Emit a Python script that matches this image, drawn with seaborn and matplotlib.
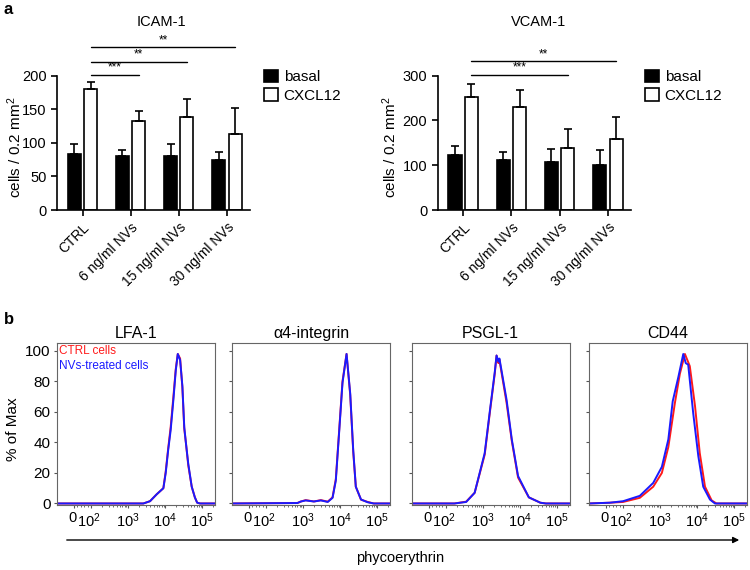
import numpy as np
import pandas as pd
import matplotlib
matplotlib.use("Agg")
import matplotlib.pyplot as plt
import matplotlib.ticker as mticker
import matplotlib.transforms as mtrans
from matplotlib.patches import Patch, FancyArrowPatch
import seaborn as sns

# ---- panel a: adhesion counts (mean, upper SEM) ----
conditions = ['CTRL', '6 ng/ml NVs', '15 ng/ml NVs', '30 ng/ml NVs']
icam_basal = [84, 80, 81, 74]
icam_basal_err = [15, 9, 17, 13]
icam_cxcl = [180, 133, 139, 113]
icam_cxcl_err = [11, 15, 27, 39]
vcam_basal = [123, 112, 107, 101]
vcam_basal_err = [21, 17, 29, 33]
vcam_cxcl = [252, 231, 138, 158]
vcam_cxcl_err = [30, 38, 43, 49]
# (target group, stars, height)
icam_sig = [(1, '***', 201), (2, '**', 221), (3, '**', 242)]
vcam_sig = [(2, '***', 302), (3, '**', 332)]

# ---- panel b: flow cytometry histograms (% of max) ----
lfa_x = [-100, 2570, 3890, 5870, 8900, 10300, 12000, 14000, 16600, 19200, 21800,
         25200, 29000, 32600, 36000, 41800, 51800, 63000, 72700, 87000, 220000]
lfa_ctrl = [0, 0, 1.5, 6, 10, 21, 36, 50, 70, 88, 98, 95, 76, 49, 40, 25, 11, 4, 0.5, 0, 0]
lfa_nv = [0, 0, 1.5, 6, 10, 20, 35, 48, 68, 87, 98, 94, 77, 50, 40, 26, 11, 4, 0.5, 0, 0]

a4_x = [-100, 700, 870, 1170, 1950, 3000, 4600, 6200, 7600, 9300, 11500, 14800,
        18600, 22400, 26300, 36300, 55000, 80000, 220000]
a4_ctrl = [0, 0.3, 1.3, 2.2, 1.3, 2.2, 1.2, 4, 16, 47, 80, 98, 71, 34, 11, 2.5, 1, 0, 0]
a4_nv = [0, 0.3, 1.3, 2.0, 1.3, 2.0, 1.0, 3.7, 15, 46, 79, 98, 72, 35, 11, 2.6, 0.8, 0, 0]

psgl_x = [-100, 172, 355, 600, 1120, 1550, 2090, 2340, 2630, 2800, 4360, 6030,
          8900, 17400, 35500, 50000, 220000]
psgl_ctrl = [0, 0, 1.2, 7, 32, 60, 85, 97, 92, 94, 66, 41, 17, 4, 0.5, 0, 0]
psgl_nv = [0, 0, 1.0, 7, 33, 61, 86, 97, 93, 95, 68, 42, 18, 4, 0.5, 0, 0]

cd44_x_nv = [-100, 22, 100, 282, 650, 1110, 1660, 2180, 3100, 4200, 4900, 5700,
             7800, 10700, 14500, 22000, 30000, 220000]
cd44_nv = [0, 0.5, 1.5, 5, 13.5, 24, 42, 67, 83, 98, 92, 91, 59, 31, 11, 2.6, 0, 0]
cd44_x_ctrl = [-100, 22, 100, 282, 650, 1110, 1660, 2500, 3400, 4650, 6300, 8700,
               11700, 16200, 24500, 33000, 220000]
cd44_ctrl = [0, 0.5, 1, 3.7, 11, 20, 37, 66, 85, 98, 90, 64, 33, 11, 2, 0, 0]

flow_titles = ['LFA-1', '\u03b14-integrin', 'PSGL-1', 'CD44']
flow_data = [
    (lfa_x, lfa_ctrl, lfa_x, lfa_nv),
    (a4_x, a4_ctrl, a4_x, a4_nv),
    (psgl_x, psgl_ctrl, psgl_x, psgl_nv),
    (cd44_x_ctrl, cd44_ctrl, cd44_x_nv, cd44_nv),
]

sns.set_style('ticks')
plt.rcParams['font.family'] = ['Liberation Sans', 'DejaVu Sans']
plt.rcParams['mathtext.fontset'] = 'custom'
plt.rcParams['mathtext.rm'] = 'Liberation Sans'
plt.rcParams['mathtext.it'] = 'Liberation Sans:italic'
plt.rcParams['mathtext.bf'] = 'Liberation Sans:bold'
for key in ['text.color', 'axes.labelcolor', 'xtick.color', 'ytick.color']:
    plt.rcParams[key] = 'black'

W, H = 750, 570
fig = plt.figure(figsize=(7.5, 5.7), dpi=100)


def px_axes(x0, y0, x1, y1):
    # pixel box (top-left origin) -> figure axes
    return fig.add_axes([x0 / W, 1 - y1 / H, (x1 - x0) / W, (y1 - y0) / H])


def bar_panel(ax, title, title_x, basal, basal_err, cxcl, cxcl_err, sig, ymax, ystep):
    df = pd.DataFrame({
        'cond': conditions * 2,
        'stim': ['basal'] * 4 + ['CXCL12'] * 4,
        'value': basal + cxcl,
    })
    sns.barplot(data=df, x='cond', y='value', hue='stim', hue_order=['basal', 'CXCL12'],
                palette={'basal': 'black', 'CXCL12': 'white'}, edgecolor='black',
                linewidth=1.2, width=0.68, gap=0.2, errorbar=None, legend=False, ax=ax)
    centers = {}
    for k, (cont, errs) in enumerate(zip(ax.containers, [basal_err, cxcl_err])):
        for i, (bar, e) in enumerate(zip(cont, errs)):
            x = bar.get_x() + bar.get_width() / 2
            h = bar.get_height()
            centers[(k, i)] = x
            ax.errorbar(x, h, yerr=[[0], [e]], fmt='none', ecolor='black',
                        elinewidth=1.2, capsize=3, capthick=1.2, zorder=1)
    x0 = centers[(1, 0)]
    for grp, stars, y in sig:
        x1 = centers[(1, grp)]
        ax.plot([x0, x1], [y, y], color='black', lw=1.0, clip_on=False)
        ax.text((x0 + x1) / 2, y + ymax * 0.01, stars, ha='center', va='bottom',
                fontsize=8.5)
    ax.set_xlim(-0.53, 3.48)
    ax.set_ylim(0, ymax)
    ax.set_yticks(np.arange(0, ymax + 1, ystep))
    ax.set_xlabel('')
    ax.set_ylabel('cells / 0.2 mm$^2$', fontsize=11)
    ax.tick_params(axis='both', direction='out', length=4, width=1.2, labelsize=10.5)
    ax.tick_params(axis='x', labelsize=10)
    for lab in ax.get_xticklabels():
        lab.set_rotation(45)
        lab.set_ha('right')
        lab.set_rotation_mode('anchor')
    for s in ['left', 'bottom']:
        ax.spines[s].set_linewidth(1.2)
        ax.spines[s].set_color('black')
    sns.despine(ax=ax)
    ax.text(title_x, 1.40, title, transform=ax.transAxes, ha='center', va='center',
            fontsize=10.5)
    handles = [Patch(facecolor='black', edgecolor='black', lw=1.2, label='basal'),
               Patch(facecolor='white', edgecolor='black', lw=1.2, label='CXCL12')]
    ax.legend(handles=handles, loc='upper left', bbox_to_anchor=(1.04, 1.09),
              frameon=False, fontsize=11, handlelength=0.9, handleheight=0.9,
              handletextpad=0.4, labelspacing=0.25, borderaxespad=0)


ax1 = px_axes(57, 75.7, 250, 210)
bar_panel(ax1, 'ICAM-1', 0.54, icam_basal, icam_basal_err, icam_cxcl, icam_cxcl_err,
          icam_sig, 200, 50)
ax1.yaxis.set_label_coords(-0.17, 0.47)
ax2 = px_axes(437.7, 75.7, 631, 210)
bar_panel(ax2, 'VCAM-1', 0.52, vcam_basal, vcam_basal_err, vcam_cxcl, vcam_cxcl_err,
          vcam_sig, 300, 100)
ax2.yaxis.set_label_coords(-0.20, 0.47)

# ---- panel b ----
lefts = [57, 232, 411.7, 589]
nudge0 = mtrans.ScaledTranslation(-1.5 / 100, 0, fig.dpi_scale_trans)
nudge2 = mtrans.ScaledTranslation(-2.5 / 100, 0, fig.dpi_scale_trans)
for j, (title, (xc, yc, xn, yn)) in enumerate(zip(flow_titles, flow_data)):
    ax = px_axes(lefts[j], 343.3, lefts[j] + 158, 505)
    sns.lineplot(x=xc, y=yc, ax=ax, color='#ff1a1a', lw=1.4, sort=False, estimator=None)
    sns.lineplot(x=xn, y=yn, ax=ax, color='#1a1aff', lw=1.4, sort=False, estimator=None)
    ax.set_xscale('symlog', linthresh=100, linscale=0.414)
    ax.set_xlim(-100, 220000)
    ax.set_ylim(-1, 105)
    ax.set_xticks([0, 100, 1000, 10000, 100000])
    ax.set_xticklabels(['0', '$10^2$', '$10^3$', '$10^4$', '$10^5$'])
    minors = [v * m for v in [100, 1000, 10000] for m in range(2, 10)] + [20, 40, 60, 80, 200000]
    ax.xaxis.set_minor_locator(mticker.FixedLocator(minors))
    ax.set_yticks([0, 20, 40, 60, 80, 100])
    ax.tick_params(axis='both', which='major', direction='out', length=2.5, width=0.8,
                   labelsize=11, color='#555555', labelcolor='black', pad=2)
    ax.tick_params(axis='x', which='major', labelsize=10.5)
    ax.tick_params(axis='x', which='minor', direction='out', length=1.5, width=0.6,
                   color='#555555')
    # squeeze "0" and "10^2" together as in the cytometry software
    ticks = ax.xaxis.get_major_ticks()
    for t, nd in [(ticks[0], nudge0), (ticks[1], nudge2)]:
        t.label1.set_transform(t.label1.get_transform() + nd)
    for s in ax.spines.values():
        s.set_color('#666666')
        s.set_linewidth(0.8)
    ax.set_xlabel('')
    ax.set_ylabel('')
    if j == 0:
        ax.set_ylabel('% of Max', fontsize=11)
        ax.yaxis.set_label_coords(-0.235, 0.47)
        ax.text(0.01, 0.95, 'CTRL cells', color='#ff1a1a', fontsize=8.5,
                transform=ax.transAxes, ha='left', va='center')
        ax.text(0.01, 0.86, 'NVs-treated cells', color='#1a1aff', fontsize=8.5,
                transform=ax.transAxes, ha='left', va='center')
    else:
        ax.set_yticklabels([])
    ax.set_title(title, fontsize=11.5, pad=4)

arrow = FancyArrowPatch((64 / W, 1 - 540 / H), (742 / W, 1 - 540 / H),
                        transform=fig.transFigure, arrowstyle='-|>', mutation_scale=9,
                        color='black', lw=1.0)
fig.add_artist(arrow)
fig.text(400 / W, 1 - 558 / H, 'phycoerythrin', ha='center', va='center', fontsize=10.5)

fig.text(4 / W, 1 - 9 / H, 'a', fontsize=12, fontweight='bold', ha='left', va='center')
fig.text(4 / W, 1 - 319 / H, 'b', fontsize=12, fontweight='bold', ha='left', va='center')

fig.savefig('out.png', dpi=100)
